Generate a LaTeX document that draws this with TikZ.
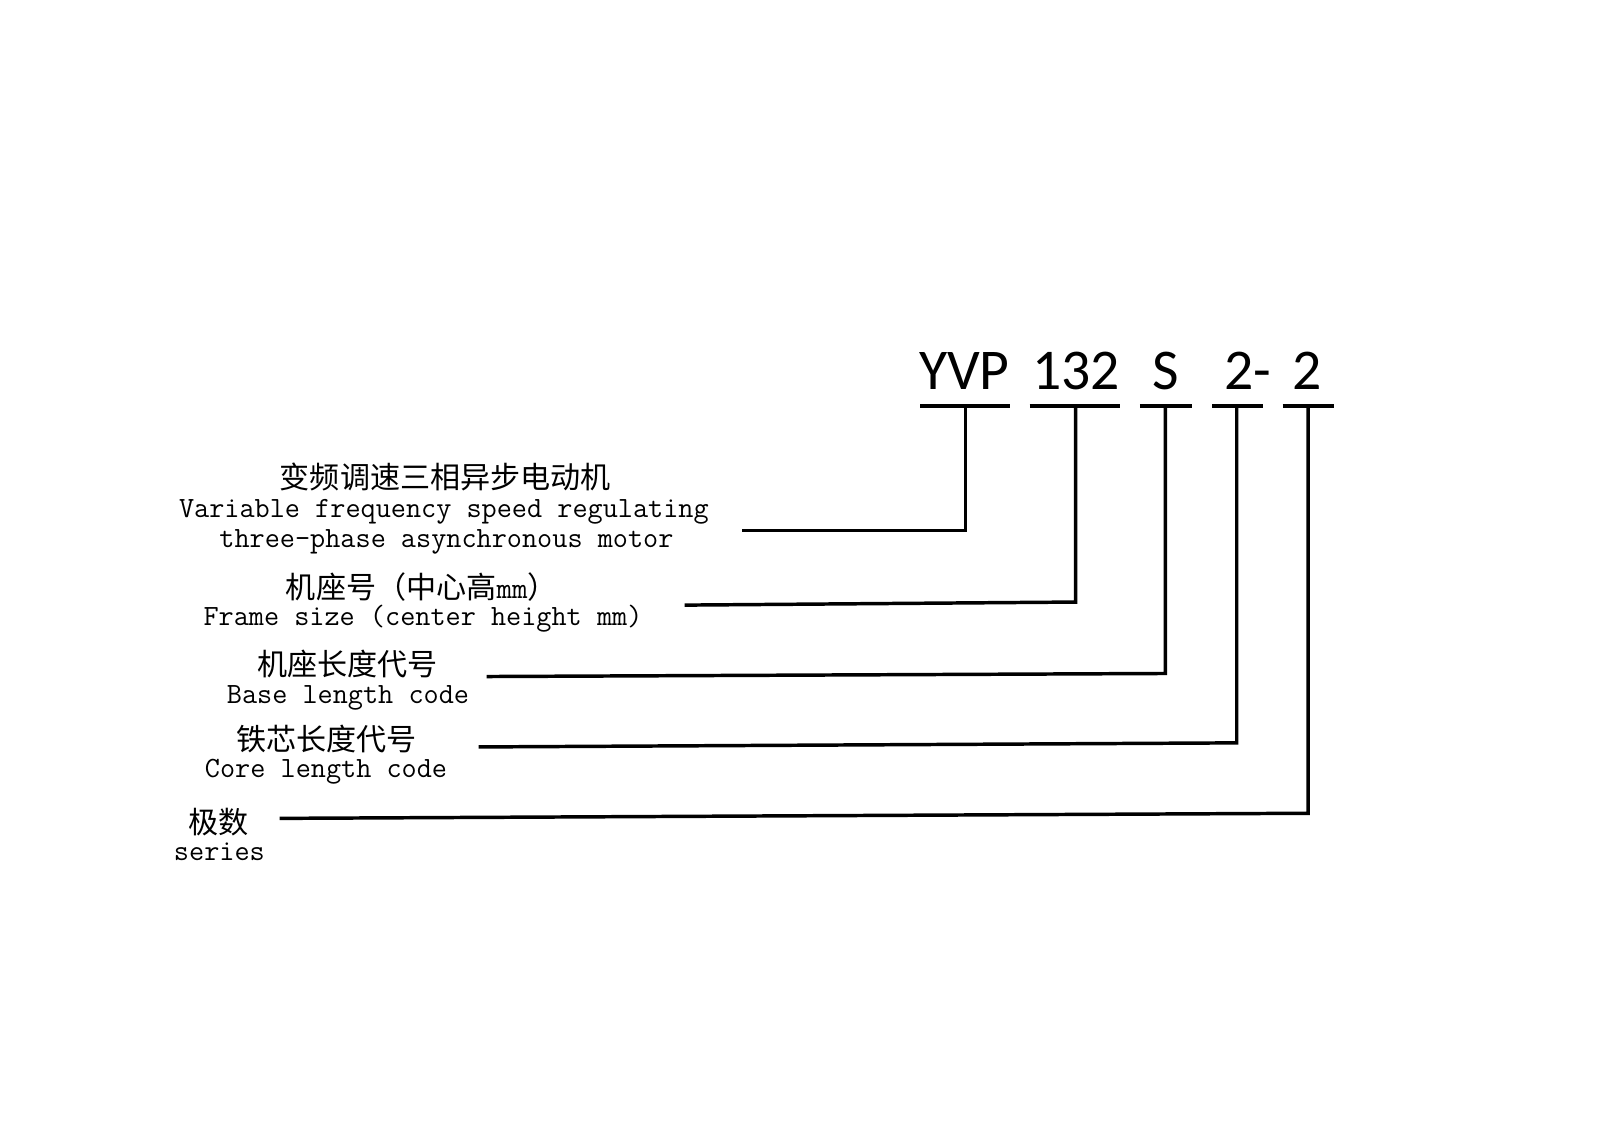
\documentclass[tikz,border=0pt]{standalone}
\usepackage{fontspec}
\newfontfamily\cjkfont{Noto Sans CJK SC}
\newfontfamily\codefont{Carlito}
\begin{document}
\begin{tikzpicture}[x=1pt,y=-1pt,
  code/.style={font=\codefont\fontsize{56.5}{60}\selectfont, anchor=base, inner sep=0pt},
  cn/.style={font=\cjkfont\fontsize{29.5}{32}\selectfont, inner sep=0pt},
  en/.style={font=\ttfamily\fontsize{28.8}{30}\selectfont, anchor=base, inner sep=0pt},
  bar/.style={line width=3.2pt},
  link/.style={line width=3.4pt, line join=miter}]
\useasboundingbox[fill=white] (0,0) rectangle (1568,1108.4);

% code parts
\node[code] (c1) at (945,382) {YVP};
\node[code] (c2) at (1054.5,382) {132};
\node[code] (c3) at (1142,382) {S};
\node[code] (c4) at (1223,382) {2-};
\node[code] (c5) at (1281,382) {2};

% underlines
\coordinate (u1a) at (902,398);  \coordinate (u1b) at (990,398);
\coordinate (u2a) at (1009,398); \coordinate (u2b) at (1098,398);
\coordinate (u3a) at (1117,398); \coordinate (u3b) at (1168,398);
\coordinate (u4a) at (1188,398); \coordinate (u4b) at (1238,398);
\coordinate (u5a) at (1257,398); \coordinate (u5b) at (1307,398);
\draw[bar] (u1a) -- (u1b);
\draw[bar] (u2a) -- (u2b);
\draw[bar] (u3a) -- (u3b);
\draw[bar] (u4a) -- (u4b);
\draw[bar] (u5a) -- (u5b);

% connector tops, corners and free ends
\coordinate (t1) at (946,398);  \coordinate (k1) at (946,520);  \coordinate (e1) at (727,520);
\coordinate (t2) at (1054,398); \coordinate (k2) at (1054,590); \coordinate (e2) at (671,593);
\coordinate (t3) at (1142,398); \coordinate (k3) at (1142,660); \coordinate (e3) at (477,663);
\coordinate (t4) at (1212,398); \coordinate (k4) at (1212,728); \coordinate (e4) at (469,732);
\coordinate (t5) at (1282,398); \coordinate (k5) at (1282,797); \coordinate (e5) at (274,802);
\draw[link] (t1) -- (k1) -- (e1);
\draw[link] (t2) -- (k2) -- (e2);
\draw[link] (t3) -- (k3) -- (e3);
\draw[link] (t4) -- (k4) -- (e4);
\draw[link] (t5) -- (k5) -- (e5);

% labels
\node[cn] (l1c) at (436.5,467) {变频调速三相异步电动机};
\node[en] (l1e) at (435,507) {Variable frequency speed regulating};
\node[en] (l1f) at (437.5,537) {three-phase asynchronous motor};

\node[cn,anchor=west] (l2c) at (280,575) {机座号（中心高{\ttfamily mm}）};
\node[en] (l2e) at (414.5,613) {Frame size (center height mm)};

\node[cn] (l3c) at (340.5,651) {机座长度代号};
\node[en] (l3e) at (341,689) {Base length code};

\node[cn] (l4c) at (320,724) {铁芯长度代号};
\node[en] (l4e) at (319.5,762) {Core length code};

\node[cn] (l5c) at (214.5,806) {极数};
\node[en] (l5e) at (215,843) {series};
\end{tikzpicture}
\end{document}
